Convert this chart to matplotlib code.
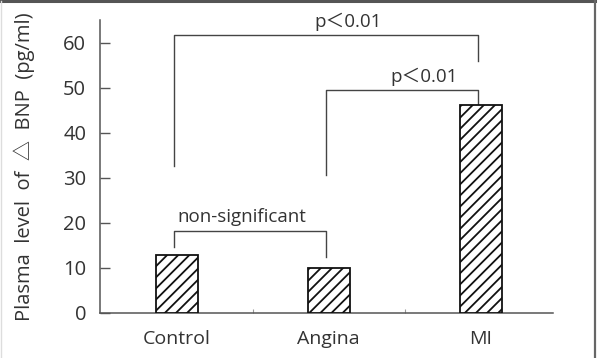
import matplotlib.pyplot as plt
from matplotlib.lines import Line2D

groups = ['Control', 'Angina', 'MI']
bnp = [12.8, 10.0, 46.2]

# brackets: (left group, right group, bar height, left leg end, right leg end, label)
brackets = [
    (0, 1, 18.2, 14.7, 12.3, 'non-significant'),
    (1, 2, 49.5, 30.5, 46.2, 'p＜0.01'),
    (0, 2, 61.7, 32.7, 55.8, 'p＜0.01'),
]

plt.rcParams['font.family'] = ['Open Sans', 'Noto Sans CJK JP', 'DejaVu Sans']
txt = '#333333'
axc = '#555555'

fig = plt.figure(figsize=(5.99, 3.58), dpi=100)
ax = fig.add_axes([0.167, 0.126, 0.756, 0.818])

x = list(range(len(groups)))
plt.rcParams['hatch.linewidth'] = 1.3
ax.bar(x, bnp, width=0.276, color='white', edgecolor='#111111',
       linewidth=1.3, hatch='///', zorder=3)

for a, b, h, la, lb, label in brackets:
    ax.plot([a - 0.02, a - 0.02, b - 0.02, b - 0.02], [la, h, h, lb],
            color='#444444', lw=1.0, clip_on=False)
    ax.text((a + b) / 2 + (0.13 if label != 'non-significant' else -0.07),
            h + 3.0, label, ha='center', va='center', fontsize=13.5,
            color=txt, clip_on=False)

ax.set_xlim(-0.505, 2.476)
ax.set_ylim(0, 65)
ax.set_yticks([0, 10, 20, 30, 40, 50, 60])
ax.set_xticks(x)
ax.set_xticklabels(groups)
ax.set_xticks([0.5, 1.5], minor=True)
ax.tick_params(axis='y', direction='in', length=7, width=1.0, color=axc,
               labelsize=14.5, labelcolor=txt, pad=10)
ax.tick_params(axis='x', which='major', length=0, labelsize=14,
               labelcolor=txt, pad=12)
ax.tick_params(axis='x', which='minor', direction='in', length=3,
               width=0.8, color='#999999')
for s in ['top', 'right']:
    ax.spines[s].set_visible(False)
for s in ['left', 'bottom']:
    ax.spines[s].set_color(axc)
    ax.spines[s].set_linewidth(1.1)

ax.set_ylabel('Plasma  level  of  △  BNP  (pg/ml)', fontsize=14.5,
              color=txt)
ax.yaxis.set_label_coords(-0.143, 0.5)

# outer frame of the figure
fig.add_artist(Line2D([0, 0.994], [0.996, 0.996], transform=fig.transFigure,
                      color='#555555', lw=2.2))
fig.add_artist(Line2D([0.994, 0.994], [0, 0.996], transform=fig.transFigure,
                      color='#666666', lw=1.6))
fig.add_artist(Line2D([0.002, 0.002], [0, 0.996], transform=fig.transFigure,
                      color='#dddddd', lw=1.0))

fig.savefig('out.png', dpi=100)
